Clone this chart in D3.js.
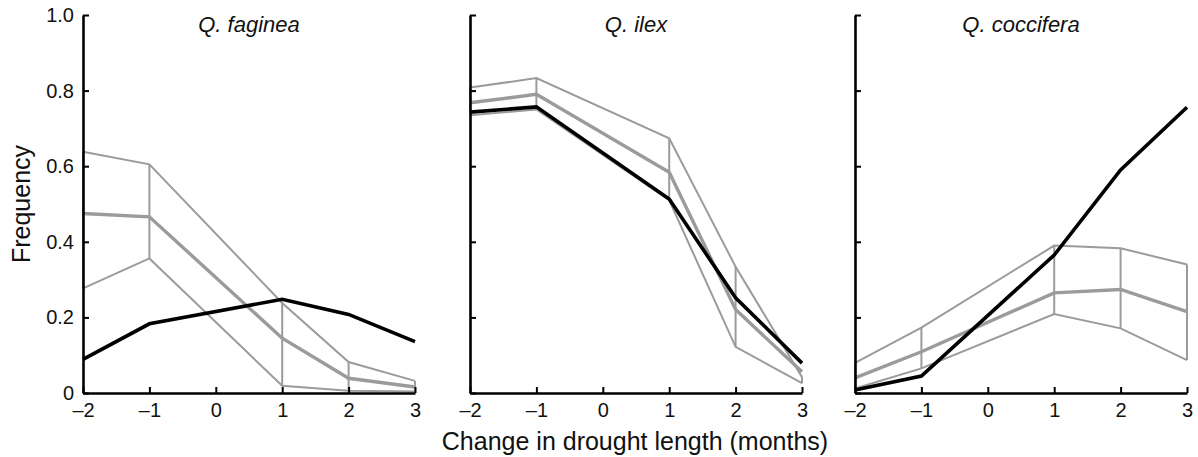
<!DOCTYPE html>
<html><head><meta charset="utf-8">
<script src="https://cdn.jsdelivr.net/npm/d3@7"></script>
<style>body{margin:0;background:#fff}svg{display:block}text{font-family:"Liberation Sans",Arial,sans-serif;fill:#111}</style>
</head><body><svg id="c" width="1198" height="457"></svg>
<script>
const xValues = [-2, -1, 1, 2, 3];
const xTicks = [-2, -1, 0, 1, 2, 3];
const yTicks = [0, 0.2, 0.4, 0.6, 0.8, 1.0];
const yTickLabels = ["0", "0.2", "0.4", "0.6", "0.8", "1.0"];
const species = ["Q. faginea", "Q. ilex", "Q. coccifera"];

const fagineaObserved = [0.089, 0.183, 0.248, 0.208, 0.136];
const fagineaMean = [0.475, 0.466, 0.145, 0.039, 0.016];
const fagineaUpper = [0.638, 0.605, 0.238, 0.082, 0.032];
const fagineaLower = [0.277, 0.356, 0.019, 0.006, 0.004];

const ilexObserved = [0.743, 0.757, 0.513, 0.252, 0.079];
const ilexMean = [0.768, 0.790, 0.584, 0.221, 0.056];
const ilexUpper = [0.808, 0.833, 0.674, 0.334, 0.042];
const ilexLower = [0.735, 0.750, 0.510, 0.122, 0.026];

const cocciferaObserved = [0.008, 0.045, 0.365, 0.590, 0.756];
const cocciferaMean = [0.040, 0.109, 0.265, 0.274, 0.215];
const cocciferaUpper = [0.080, 0.173, 0.390, 0.383, 0.340];
const cocciferaLower = [0.012, 0.065, 0.209, 0.171, 0.087];

const panels = [
  {name: species[0], obs: fagineaObserved, mean: fagineaMean, up: fagineaUpper, lo: fagineaLower},
  {name: species[1], obs: ilexObserved, mean: ilexMean, up: ilexUpper, lo: ilexLower},
  {name: species[2], obs: cocciferaObserved, mean: cocciferaMean, up: cocciferaUpper, lo: cocciferaLower}
];

const svg = d3.select("#c");
const panelLeft = [83, 470, 855];
const panelW = 332;
const plotTop = 15, plotBottom = 393;
const y = d3.scaleLinear().domain([0, 1]).range([plotBottom, plotTop]);
const gray = "#9b9b9b";
const FONT = "Liberation Sans, Arial, sans-serif";

panels.forEach((p, i) => {
  const x = d3.scaleLinear().domain([-2, 3]).range([panelLeft[i], panelLeft[i] + panelW]);
  const g = svg.append("g");
  const line = d3.line().x((d, j) => x(xValues[j])).y(d => y(d));

  xValues.forEach((xv, j) => {
    g.append("line").attr("x1", x(xv)).attr("x2", x(xv))
      .attr("y1", y(p.up[j])).attr("y2", y(p.lo[j]))
      .attr("stroke", gray).attr("stroke-width", 2);
  });
  g.append("path").datum(p.up).attr("d", line).attr("fill", "none").attr("stroke", gray).attr("stroke-width", 2);
  g.append("path").datum(p.lo).attr("d", line).attr("fill", "none").attr("stroke", gray).attr("stroke-width", 2);
  g.append("path").datum(p.mean).attr("d", line).attr("fill", "none").attr("stroke", gray).attr("stroke-width", 3.4);
  g.append("path").datum(p.obs).attr("d", line).attr("fill", "none").attr("stroke", "#000").attr("stroke-width", 3.6);

  const xa = g.append("g").attr("transform", `translate(0,${plotBottom})`)
    .call(d3.axisBottom(x).tickValues(xTicks).tickSizeInner(-6).tickSizeOuter(0).tickPadding(10)
      .tickFormat(d => d < 0 ? "\u2013" + Math.abs(d) : String(d)));
  xa.attr("font-size", null).attr("font-family", null);
  xa.select(".domain").attr("stroke", "#000").attr("stroke-width", 2.6);
  xa.selectAll(".tick line").attr("stroke", "#000").attr("stroke-width", 2);
  xa.selectAll("text").style("font-size", "20px").style("fill", "#111").style("font-family", FONT);

  const ya = g.append("g").attr("transform", `translate(${panelLeft[i]},0)`)
    .call(d3.axisLeft(y).tickValues(yTicks).tickSizeInner(-6).tickSizeOuter(0).tickPadding(9)
      .tickFormat((d, k) => i === 0 ? yTickLabels[k] : ""));
  ya.attr("font-size", null).attr("font-family", null);
  ya.select(".domain").attr("stroke", "#000").attr("stroke-width", 2.6);
  ya.selectAll(".tick line").attr("stroke", "#000").attr("stroke-width", 2);
  ya.selectAll("text").style("font-size", "20px").style("fill", "#111").style("font-family", FONT);

  g.append("text").attr("x", panelLeft[i] + panelW / 2).attr("y", 32)
    .attr("text-anchor", "middle").style("font-size", "22px").attr("font-style", "italic").text(p.name);
});

svg.append("text").attr("transform", "translate(30,204) rotate(-90)").attr("text-anchor", "middle")
  .style("font-size", "25px").text("Frequency");
svg.append("text").attr("x", 635).attr("y", 450).attr("text-anchor", "middle")
  .style("font-size", "25px").text("Change in drought length (months)");
</script></body></html>
